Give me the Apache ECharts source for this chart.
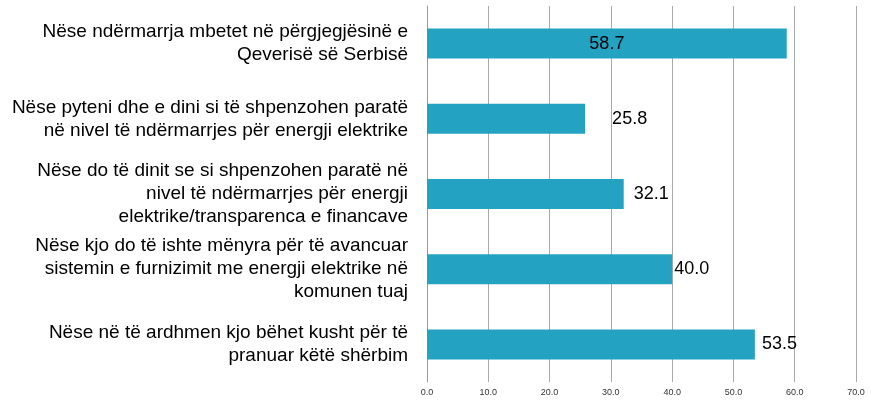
<!DOCTYPE html>
<html><head><meta charset="utf-8">
<script src="https://cdn.jsdelivr.net/npm/echarts@6/dist/echarts.min.js"></script>
<style>html,body{margin:0;padding:0;background:#fff}#c{width:871px;height:401px}</style>
</head><body><div id="c"></div>
<script>
const categories = [
  "Nëse ndërmarrja mbetet në përgjegjësinë e\nQeverisë së Serbisë",
  "Nëse pyteni dhe e dini si të shpenzohen paratë\nnë nivel të ndërmarrjes për energji elektrike",
  "Nëse do të dinit se si shpenzohen paratë në\nnivel të ndërmarrjes për energji\nelektrike/transparenca e financave",
  "Nëse kjo do të ishte mënyra për të avancuar\nsistemin e furnizimit me energji elektrike në\nkomunen tuaj",
  "Nëse në të ardhmen kjo bëhet kusht për të\npranuar këtë shërbim"
];
const values = [58.7, 25.8, 32.1, 40.0, 53.5];
const labelPositions = ["inside", "right", "right", "right", "right"];
const labelDistances = [0, 27, 10, 2, 7];
const catPaddings = [[0,0,2,0], [0,0,0,0], [0,0,18,0], [6,0,0,0], [0,0,0,0]];

const chart = echarts.init(document.getElementById('c'), null, {renderer: 'canvas'});
chart.setOption({
  animation: false,
  grid: {left: 427, right: 15, top: 6, bottom: 19, containLabel: false},
  xAxis: {
    type: 'value', min: 0, max: 70, interval: 10,
    axisLine: {show: false}, axisTick: {show: false},
    splitLine: {show: true, lineStyle: {color: '#aaaaaa', width: 1}},
    axisLabel: {fontFamily: 'Liberation Sans, Arial', fontSize: 9, color: '#333',
      margin: 6, formatter: v => v.toFixed(1)}
  },
  yAxis: {
    type: 'category', inverse: true,
    data: categories.map((c, i) => ({value: c, textStyle: {padding: catPaddings[i]}})),
    axisLine: {show: true, lineStyle: {color: '#999999'}}, axisTick: {show: false},
    axisLabel: {fontFamily: 'Liberation Sans, Arial', fontSize: 19, color: '#000',
      align: 'right', margin: 19, lineHeight: 23}
  },
  series: [{
    type: 'bar', barWidth: 30,
    data: values.map((v, i) => ({value: v, label: {position: labelPositions[i], distance: labelDistances[i]}})),
    itemStyle: {color: '#23A3C1'},
    label: {show: true, fontFamily: 'Liberation Sans, Arial', fontSize: 18, color: '#000',
      formatter: p => p.value.toFixed(1)}
  }]
});
</script></body></html>
